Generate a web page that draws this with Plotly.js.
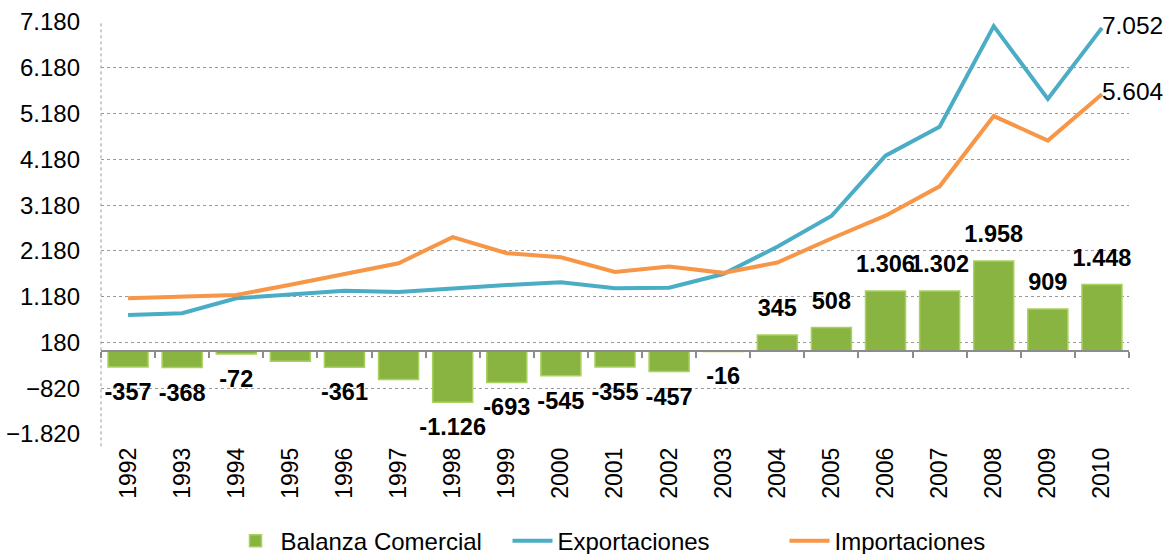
<!DOCTYPE html>
<html>
<head>
<meta charset="utf-8">
<script src="https://cdn.plot.ly/plotly-3.0.1.min.js"></script>
<style>
  html, body { margin: 0; padding: 0; background: #ffffff; }
  #chart { width: 1170px; height: 554px; }
</style>
</head>
<body>
<div id="chart"></div>
<script>
const years = ['1992','1993','1994','1995','1996','1997','1998','1999','2000','2001',
               '2002','2003','2004','2005','2006','2007','2008','2009','2010'];
const balanza = [-357, -368, -72, -230, -361, -627, -1126, -693, -545, -355,
                 -457, -16, 345, 508, 1306, 1302, 1958, 909, 1448];
const exportaciones = [780, 817, 1145, 1217, 1311, 1282, 1363, 1435, 1494, 1363,
                       1376, 1675, 2272, 2942, 4260, 4893, 7090, 5498, 7052];
const importaciones = [1145, 1190, 1217, 1440, 1680, 1909, 2480, 2128, 2040, 1720,
                       1840, 1700, 1925, 2450, 2950, 3590, 5125, 4590, 5604];
const sinEtiqueta = ['1995', '1997'];
const yTicks = [-1820, -820, 180, 1180, 2180, 3180, 4180, 5180, 6180, 7180];

const FONT = 'Liberation Sans, Arial, sans-serif';
const fmt = v => (v < 0 ? '-' : '') + Math.abs(v).toString().replace(/\B(?=(\d{3})+(?!\d))/g, '.');
const last = years.length - 1;

const barTrace = {
  type: 'bar', name: 'Balanza Comercial', x: years, y: balanza,
  xaxis: 'x', yaxis: 'y',
  marker: { color: '#8AB442', line: { color: '#A9D160', width: 1.5 } },
  hoverinfo: 'x+y'
};
const barLabels = {
  type: 'scatter', mode: 'markers+text', x: years, y: balanza, xaxis: 'x', yaxis: 'y',
  text: years.map((yr, i) => sinEtiqueta.includes(yr) ? '' : fmt(balanza[i])),
  textposition: balanza.map(v => v < 0 ? 'bottom center' : 'top center'),
  marker: { size: balanza.map(v => v < 0 ? 23 : 19), color: 'rgba(0,0,0,0)', line: { width: 0 } },
  textfont: { family: FONT, size: 23.5, color: '#000000', weight: 'bold' },
  showlegend: false, cliponaxis: false, hoverinfo: 'skip'
};
const expTrace = {
  type: 'scatter', mode: 'lines+text', name: 'Exportaciones', x: years, y: exportaciones,
  xaxis: 'x2', yaxis: 'y',
  text: years.map((yr, i) => i === last ? fmt(exportaciones[i]) : ''),
  textposition: 'middle right', cliponaxis: false,
  textfont: { family: FONT, size: 24.5, color: '#000000' },
  line: { color: '#4BACC6', width: 4 }
};
const impTrace = {
  type: 'scatter', mode: 'lines+text', name: 'Importaciones', x: years, y: importaciones,
  xaxis: 'x2', yaxis: 'y',
  text: years.map((yr, i) => i === last ? fmt(importaciones[i]) : ''),
  textposition: 'middle right', cliponaxis: false,
  textfont: { family: FONT, size: 24.5, color: '#000000' },
  line: { color: '#F79646', width: 4 }
};

const layout = {
  width: 1170, height: 554,
  margin: { l: 101, r: 41, t: 22, b: 120, pad: 0 },
  paper_bgcolor: '#ffffff', plot_bgcolor: '#ffffff',
  font: { family: FONT, size: 24, color: '#000000' },
  separators: ',.',
  showlegend: true,
  bargap: 0.26,
  xaxis: {
    type: 'category', range: [-0.5, 18.5], anchor: 'y',
    showgrid: false, zeroline: false, showline: false, ticks: '',
    tickangle: -90, ticklabelstandoff: 8,
    tickfont: { family: FONT, size: 23, color: '#000000' },
    fixedrange: true
  },
  xaxis2: {
    type: 'category', range: [-0.5, 18.5], overlaying: 'x', anchor: 'free',
    position: 1820 / 9000, side: 'bottom',
    showgrid: false, zeroline: false, showticklabels: false,
    showline: true, linecolor: '#8c8c8c', linewidth: 2,
    ticks: 'outside', tickson: 'boundaries', ticklen: 6, tickcolor: '#8c8c8c', tickwidth: 2,
    fixedrange: true
  },
  yaxis: {
    range: [-1820, 7180], tickvals: yTicks, tickformat: ',d',
    showgrid: true, gridcolor: '#9a9a9a', griddash: 'dot', gridwidth: 1,
    zeroline: false, showline: false, ticks: '', ticklabelstandoff: 20,
    tickfont: { family: FONT, size: 24, color: '#000000' },
    fixedrange: true
  },
  shapes: [{
    type: 'line', xref: 'paper', yref: 'paper', x0: 0, x1: 0, y0: -0.03, y1: 1,
    line: { color: '#9a9a9a', width: 1, dash: 'dot' }, layer: 'below'
  }],
  legend: {
    orientation: 'h', xref: 'container', yref: 'container',
    x: 0.197, xanchor: 'left', y: 0.023, yanchor: 'middle',
    font: { family: FONT, size: 24, color: '#000000' },
    entrywidth: 222, entrywidthmode: 'pixels',
    itemwidth: 40, tracegroupgap: 0, bgcolor: 'rgba(0,0,0,0)'
  }
};

Plotly.newPlot('chart', [barTrace, barLabels, expTrace, impTrace], layout,
  { displayModeBar: false, staticPlot: true });
</script>
</body>
</html>
